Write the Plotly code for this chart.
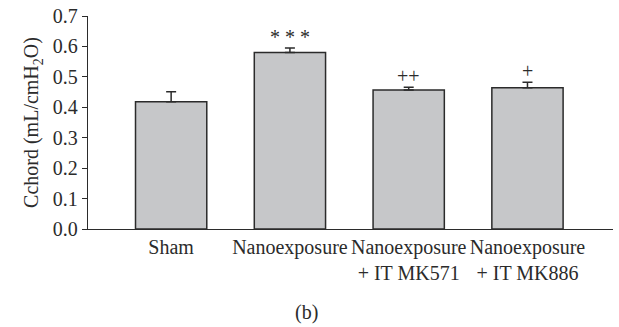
import plotly.graph_objects as go

groups = ["Sham", "Nanoexposure", "Nanoexposure<br>+ IT MK571", "Nanoexposure<br>+ IT MK886"]
cchord = [0.418, 0.580, 0.457, 0.464]
sem = [0.033, 0.015, 0.009, 0.018]
marks = ["", "* * *", "++", "+"]

FONT = "Liberation Serif"
SIZE = 20
INK = "#2b2b2b"

fig = go.Figure()
fig.add_trace(go.Bar(
    x=list(range(len(groups))),
    y=cchord,
    width=0.6,
    marker=dict(color="#c6c7c9", line=dict(color=INK, width=1.5)),
    error_y=dict(type="data", array=sem, arrayminus=[0] * len(sem), symmetric=False,
                 color=INK, thickness=1.5, width=5),
    showlegend=False,
))

for i, (v, e, m) in enumerate(zip(cchord, sem, marks)):
    if m:
        fig.add_annotation(x=i, y=v + e, text=m, showarrow=False, yanchor="bottom",
                           yshift=-2, font=dict(family=FONT, size=SIZE, color=INK))

fig.add_annotation(x=0.417, y=-0.392, xref="paper", yref="paper",
                   xanchor="center", yanchor="middle",
                   text="(b)", showarrow=False,
                   font=dict(family=FONT, size=SIZE, color=INK))

fig.update_layout(
    width=619, height=327,
    margin=dict(l=88, r=6, t=16, b=98),
    plot_bgcolor="white", paper_bgcolor="white",
    font=dict(family=FONT, size=SIZE, color=INK),
)
fig.update_xaxes(
    range=[-0.70, 3.72], tickvals=list(range(len(groups))), ticktext=groups,
    showline=True, linecolor=INK, linewidth=1.3, ticks="", showgrid=False,
    zeroline=False, tickfont=dict(family=FONT, size=SIZE, color=INK),
)
fig.update_yaxes(
    range=[0, 0.7], tickvals=[0, 0.1, 0.2, 0.3, 0.4, 0.5, 0.6, 0.7],
    tickformat=".1f", showline=True, linecolor=INK, linewidth=1.3,
    ticks="outside", ticklen=5, tickcolor=INK, showgrid=False, zeroline=False,
    tickfont=dict(family=FONT, size=SIZE, color=INK),
    title=dict(text="Cchord (mL/cmH<sub>2</sub>O)", standoff=8,
               font=dict(family=FONT, size=SIZE, color=INK)),
)

fig.write_html("out.html")
